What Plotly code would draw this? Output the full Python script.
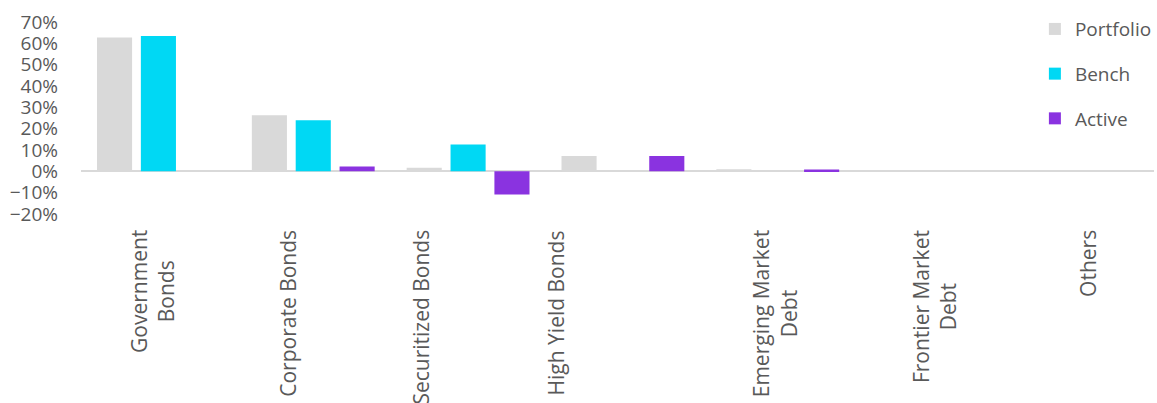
import plotly.graph_objects as go

categories = ["Government Bonds", "Corporate Bonds", "Securitized Bonds", "High Yield Bonds",
              "Emerging Market Debt", "Frontier Market Debt", "Others"]
tick_labels = ["Government<br>Bonds", "Corporate Bonds", "Securitized Bonds", "High Yield Bonds",
               "Emerging Market<br>Debt", "Frontier Market<br>Debt", "Others"]
portfolio = [62.7, 26.3, 1.7, 7.2, 1.0, 0.0, 0.0]
bench = [63.4, 24.0, 12.6, 0.0, 0.0, 0.0, 0.0]
active = [0.0, 2.3, -10.9, 7.2, 0.9, 0.0, 0.0]

series_names = ["Portfolio", "Bench", "Active"]
series_colors = ["#d9d9d9", "#00d8f4", "#8a33e0"]
label_xshift = [-6, -26, -48, -67, -3, 2, 0]

FONT = "Open Sans"
TXT = "#595959"

fig = go.Figure()
for name, vals, col in zip(series_names, [portfolio, bench, active], series_colors):
    fig.add_trace(go.Bar(
        x=categories, y=vals, name=name, legendgroup=name,
        marker=dict(color=col, line=dict(width=0)),
    ))

for cat, lab, dx in zip(categories, tick_labels, label_xshift):
    fig.add_annotation(
        x=cat, xref="x", y=0, yref="paper", yshift=-14, xshift=dx,
        text=lab, textangle=-90, showarrow=False, align="center",
        xanchor="center", yanchor="top",
        font=dict(family=FONT, size=21, color=TXT),
    )

fig.update_layout(
    width=1157, height=403,
    margin=dict(l=81, r=0, t=22, b=189),
    paper_bgcolor="white", plot_bgcolor="white",
    barmode="group", bargap=0.15, bargroupgap=0.2,
    font=dict(family=FONT, size=19, color=TXT),
    showlegend=True,
    legend=dict(x=0.889, y=1.062, xanchor="left", yanchor="top",
                font=dict(family=FONT, size=19, color=TXT),
                tracegroupgap=17, bgcolor="rgba(0,0,0,0)"),
    xaxis=dict(range=[-0.5, 6.43], showticklabels=False, showgrid=False, showline=False,
               ticks=""),
    yaxis=dict(range=[-20, 70], dtick=10, ticksuffix="%", showgrid=False, showline=False,
               zeroline=True, zerolinecolor="#d9d9d9", zerolinewidth=2,
               ticks="", ticklabelstandoff=22, tickfont=dict(size=19, color=TXT)),
)

fig.write_html("out.html")
